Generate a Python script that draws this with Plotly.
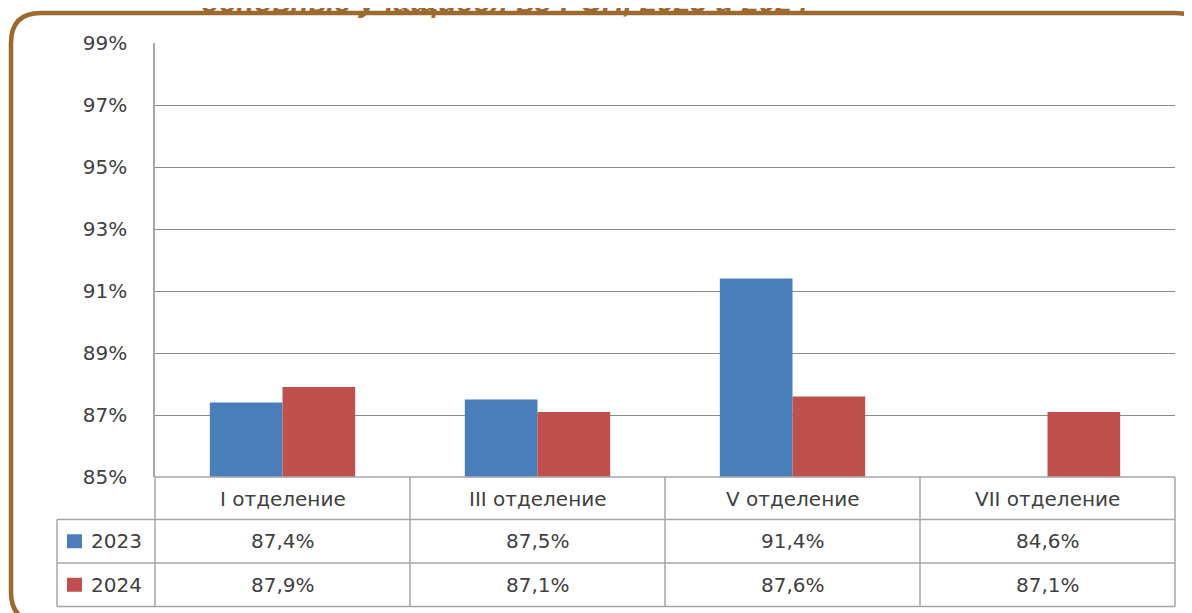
import plotly.graph_objects as go

categories = ["I отделение", "III отделение", "V отделение", "VII отделение"]
series_names = ["2023", "2024"]
values_2023 = [87.4, 87.5, 91.4, 84.6]
values_2024 = [87.9, 87.1, 87.6, 87.1]
y_ticks = [85, 87, 89, 91, 93, 95, 97, 99]
title_text = "основные учащиеся во РСП, 2023 и 2024"

colors = ["#4A7EBB", "#C0504D"]
OFF = 8  # default page body margin
W, H = 1192 - OFF, 613 - OFF
L, R, T, B = 155, 1175, 43, 477  # plot area in page pixels
FONT = "DejaVu Sans"
TXT = "#404040"
GRID = "#8c8c8c"
TAB = "#a6a6a6"
BORDER = "#9C6A2E"


def px(x):
    return (x - L) / (R - L)


def py(y):
    return (B - y) / (B - T)


fig = go.Figure()
for name, vals, c in zip(series_names, [values_2023, values_2024], colors):
    fig.add_trace(go.Bar(x=categories, y=vals, name=name, marker=dict(color=c, line=dict(width=0)),
                         showlegend=False))

shapes = []
# rounded border (extends beyond the right and bottom edges)
x0, y0, x1, y1 = 11, 13, 1212, 622
rl, rr = 30, 38
path = (f"M {px(x0)},{py(y0 + rl)} "
        f"Q {px(x0)},{py(y0)} {px(x0 + rl)},{py(y0)} "
        f"L {px(x1 - rr)},{py(y0)} "
        f"Q {px(x1)},{py(y0)} {px(x1)},{py(y0 + rr)} "
        f"L {px(x1)},{py(y1 - rr)} "
        f"Q {px(x1)},{py(y1)} {px(x1 - rr)},{py(y1)} "
        f"L {px(x0 + rl)},{py(y1)} "
        f"Q {px(x0)},{py(y1)} {px(x0)},{py(y1 - rl)} Z")
shapes.append(dict(type="path", xref="paper", yref="paper", path=path,
                   line=dict(color=BORDER, width=4.5), fillcolor="rgba(0,0,0,0)", layer="below"))

# data table lines
row_y = [477, 519.5, 563, 606.5]
col_x = [155, 410, 665, 920, 1175]
for yy in row_y[1:]:
    shapes.append(dict(type="line", xref="paper", yref="paper", x0=px(57), x1=px(1175), y0=py(yy), y1=py(yy),
                       line=dict(color=TAB, width=1.5)))
shapes.append(dict(type="line", xref="paper", yref="paper", x0=px(155), x1=px(1175), y0=py(477), y1=py(477),
                   line=dict(color=TAB, width=1.5)))
for xx in col_x:
    shapes.append(dict(type="line", xref="paper", yref="paper", x0=px(xx), x1=px(xx), y0=py(477),
                       y1=py(row_y[-1]), line=dict(color=TAB, width=1.5)))
shapes.append(dict(type="line", xref="paper", yref="paper", x0=px(57), x1=px(57), y0=py(row_y[1]),
                   y1=py(row_y[-1]), line=dict(color=TAB, width=1.5)))

annotations = []
annotations.append(dict(text=f"<b><i>{title_text}</i></b>", xref="paper", yref="paper", x=px(505), y=py(1),
                        xanchor="center", yanchor="middle", showarrow=False,
                        font=dict(family="Liberation Sans", size=30, color=BORDER)))
for cat in categories:
    annotations.append(dict(text=cat, xref="x", yref="paper", x=cat, y=py(499), xanchor="center",
                            yanchor="middle", showarrow=False, font=dict(family=FONT, size=20, color=TXT)))
for i, (name, vals, c) in enumerate(zip(series_names, [values_2023, values_2024], colors)):
    yc = (row_y[i + 1] + row_y[i + 2]) / 2
    shapes.append(dict(type="rect", xref="paper", yref="paper", x0=px(67), x1=px(82), y0=py(yc - 7),
                       y1=py(yc + 7), fillcolor=c, line=dict(width=0)))
    annotations.append(dict(text=name, xref="paper", yref="paper", x=px(89), y=py(yc), xanchor="left",
                            yanchor="middle", showarrow=False, font=dict(family=FONT, size=20, color=TXT)))
    for cat, v in zip(categories, vals):
        annotations.append(dict(text=f"{v:.1f}%".replace(".", ","), xref="x", yref="paper", x=cat, y=py(yc),
                                xanchor="center", yanchor="middle", showarrow=False,
                                font=dict(family=FONT, size=20, color=TXT)))

fig.update_layout(
    width=W, height=H,
    margin=dict(l=L - OFF, r=W - (R - OFF), t=T - OFF, b=H - (B - OFF), pad=0),
    plot_bgcolor="white", paper_bgcolor="white",
    barmode="group", bargap=0.43, bargroupgap=0,
    shapes=shapes, annotations=annotations,
    xaxis=dict(showticklabels=False, showgrid=False, zeroline=False, showline=False, fixedrange=True),
    yaxis=dict(range=[85, 99], tickvals=y_ticks, ticktext=[f"{t}%" for t in y_ticks],
               showgrid=True, gridcolor=GRID, gridwidth=1, zeroline=False,
               showline=True, linecolor=TAB, linewidth=1.5, ticks="", ticklabelstandoff=22,
               tickfont=dict(family=FONT, size=20, color=TXT)),
    font=dict(family=FONT),
)

fig.write_html("out.html")
